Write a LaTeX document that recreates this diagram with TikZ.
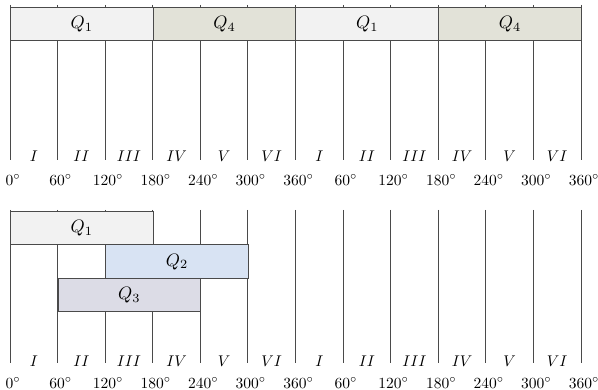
\documentclass[tikz,border=0pt]{standalone}
\usepackage{graphicx}
\usepackage{tikz}
\definecolor{cqone}{HTML}{F2F2F2}
\definecolor{cqfour}{HTML}{E2E2D8}
\definecolor{cqtwo}{HTML}{D8E3F3}
\definecolor{cqthree}{HTML}{DCDCE6}
\definecolor{cline}{HTML}{4A4A4A}
\newcommand{\biglab}[1]{\scalebox{1.55}{#1}}
\newcommand{\qlab}[1]{\scalebox{1.8}{#1}}
\tikzset{
  grid line/.style={draw=cline, line width=0.9pt},
  qbox/.style={draw=cline, line width=0.9pt, inner sep=0pt, anchor=north west},
  numeral/.style={inner sep=0pt},
  deglabel/.style={inner sep=0pt},
}
\begin{document}
\begin{tikzpicture}[x=1pt,y=-1pt]
\useasboundingbox (0,0) rectangle (598,390);
\def\dx{47.58}
% grid lines
\foreach \i in {0,...,12}{
  \coordinate (ta\i) at ({10+\i*\dx},5);
  \coordinate (tb\i) at ({10+\i*\dx},160);
  \draw[grid line] (ta\i) -- (tb\i);
  \coordinate (ba\i) at ({10+\i*\dx},210);
  \coordinate (bb\i) at ({10+\i*\dx},363);
  \draw[grid line] (ba\i) -- (bb\i);
}
% top boxes
\foreach \s/\c/\q [count=\k] in {0/cqone/1,3/cqfour/4,6/cqone/1,9/cqfour/4}{
  \node[qbox, fill=\c, minimum width={3*\dx}, minimum height=33] (top\k) at ({10+\s*\dx},7) {};
  \node (topl\k) at (top\k.center) {\qlab{$Q_{\q}$}};
}
% bottom boxes
\node[qbox, fill=cqone, minimum width={3*\dx}, minimum height=33.5] (b1) at (10,211) {};
\node (b1l) at (b1.center) {\qlab{$Q_1$}};
\node[qbox, fill=cqtwo, minimum width={3*\dx}, minimum height=33.5] (b2) at ({10+2*\dx},244.5) {};
\node (b2l) at (b2.center) {\qlab{$Q_2$}};
\node[qbox, fill=cqthree, minimum width={3*\dx}, minimum height=33.5] (b3) at ({10+1*\dx},278) {};
\node (b3l) at (b3.center) {\qlab{$Q_3$}};
% numerals and degree labels
\foreach \n [count=\k from 0] in {I,II,III,IV,V,VI,I,II,III,IV,V,VI}{
  \node[numeral] (tn\k) at ({10+(\k+0.5)*\dx},156) {\biglab{$\n$}};
  \node[numeral] (bn\k) at ({10+(\k+0.5)*\dx},361) {\biglab{$\n$}};
}
\foreach \d [count=\k from 0] in {0,60,120,180,240,300,360,60,120,180,240,300,360}{
  \node[deglabel] (td\k) at ({13+\k*\dx},180) {\biglab{$\d^\circ$}};
  \node[deglabel] (bd\k) at ({13+\k*\dx},383) {\biglab{$\d^\circ$}};
}
\end{tikzpicture}
\end{document}
